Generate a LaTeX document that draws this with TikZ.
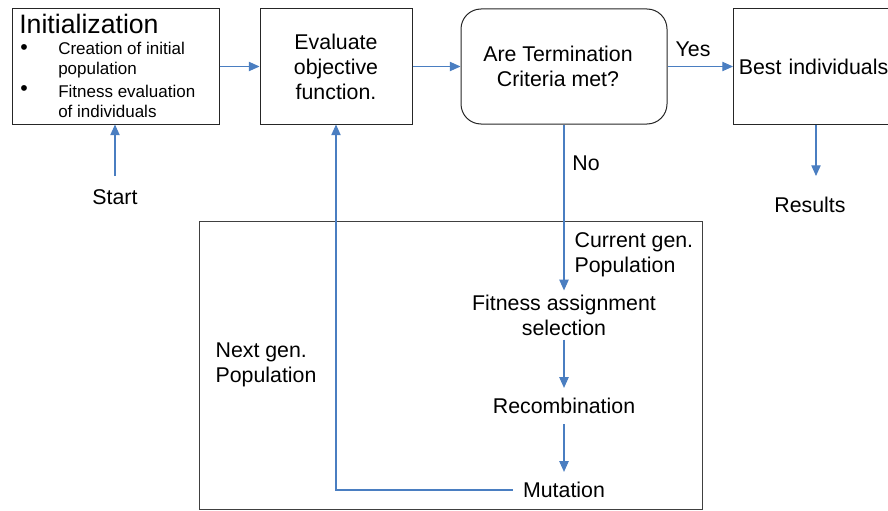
\documentclass[tikz,border=0pt]{standalone}
\usepackage{fontspec}
\setmainfont{Liberation Sans}
\usetikzlibrary{arrows.meta}
\definecolor{flowblue}{RGB}{74,126,193}

\begin{document}
\begin{tikzpicture}[x=0.75pt,y=-0.75pt,
    box/.style={draw=black!85, line width=0.75pt, minimum height=86.25pt, align=center,
      font=\fontsize{16}{18.75}\selectfont},
    txt/.style={font=\fontsize{16}{18.75}\selectfont, align=center, inner sep=1pt},
    small/.style={font=\fontsize{12.75}{15}\selectfont, align=left, anchor=west, inner sep=0pt},
    flow/.style={draw=flowblue, line width=0.8pt, -{Triangle[length=8pt,width=7pt]}}]
  \useasboundingbox (0,0) rectangle (888,510);
  \node[draw=black!75, line width=0.75pt, minimum width=377.25pt, minimum height=216pt] (ga) at (450.5,365) {};

  \node[box, minimum width=155.25pt] (init) at (115.5,66.5) {};
  \node[anchor=west, inner sep=0pt, font=\fontsize{20}{24}\selectfont] (title) at (19,24) {Initialization};
  \node[small, font=\fontsize{16}{15}\selectfont] (dot1) at (20,50) {\textbullet};
  \node[small] (item1) at (58,60) {Creation of initial\\population};
  \node[small, font=\fontsize{16}{15}\selectfont] (dot2) at (20,91) {\textbullet};
  \node[small] (item2) at (58,101) {Fitness evaluation\\of individuals};

  \node[box, minimum width=114pt] (eval) at (336,66.5) {Evaluate\\objective\\function.};
  \node[box, rounded corners=15pt, minimum width=154.5pt] (term) at (564,66.5) {Are Termination\hspace*{9pt}\\Criteria met?\hspace*{9pt}};
  \node[box, anchor=west, align=left, text width=116pt, inner xsep=4pt] (best) at (733,66.5) {Best individuals};

  \node[txt] (start) at (115,197) {Start};
  \node[txt] (res) at (810,205) {Results};
  \coordinate (startout) at (115,176);
  \coordinate (resin) at (816,176);

  \node[txt] (yes) at (693,49) {Yes};
  \node[txt] (no) at (586,163) {No};
  \node[txt, anchor=west, align=left] (cur) at (573,255) {Current gen.\\Population};
  \node[txt, anchor=west, align=left] (nxt) at (214,365) {Next gen.\\Population};

  \node[txt, inner ysep=3pt] (fit) at (564,315) {Fitness assignment\\selection};
  \node[txt, inner ysep=7.5pt] (rec) at (564,406) {Recombination};
  \node[txt, inner ysep=7.5pt, inner xsep=7.5pt] (mut) at (564,490) {Mutation};

  \draw[flow] (startout) -- (init.south -| startout);
  \draw[flow] (init) -- (eval);
  \draw[flow] (eval) -- (term);
  \draw[flow] (term) -- (best.west |- term);
  \draw[flow] (best.south -| resin) -- (resin);
  \draw[flow] (term.south) -- (fit.north);
  \draw[flow] (fit) -- (rec);
  \draw[flow] (rec) -- (mut);
  \draw[flow] (mut.west) -| (eval.south);
\end{tikzpicture}
\end{document}
